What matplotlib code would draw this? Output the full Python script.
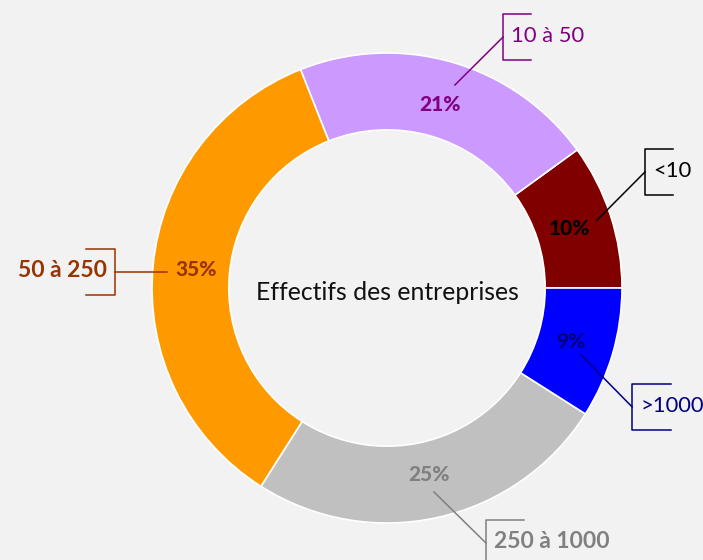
import matplotlib
matplotlib.use('Agg')

import matplotlib.pyplot as plt
import numpy as np

plt.rcParams['font.family'] = ['Lato', 'DejaVu Sans']

# effectifs des entreprises (%)
categories = ['<10', '10 à 50', '50 à 250', '250 à 1000', '>1000']
values = [10, 21, 35, 25, 9]
wedge_colors = ['#800000', '#cc99ff', '#ff9900', '#c0c0c0', '#0000ff']
label_colors = ['#000000', '#800080', '#993300', '#808080', '#000080']
label_bold = [False, False, True, True, False]
center_title = 'Effectifs des entreprises'

# leader lines: start point, bracket point (data units, radius = 1)
line_start = [(0.894, 0.289), (0.289, 0.864), (-0.936, 0.068), (0.20, -0.868), (0.826, -0.285)]
line_end = [(1.098, 0.494), (0.494, 1.068), (-1.157, 0.068), (0.421, -1.085), (1.043, -0.506)]
bracket_len = [0.12, 0.12, 0.125, 0.16, 0.165]

fig = plt.figure(figsize=(7.03, 5.6), dpi=100)
fig.patch.set_facecolor('#f2f2f2')
ax = fig.add_axes([0, 0, 1, 1])
ax.set_facecolor('#f2f2f2')

ax.pie(values, radius=1, startangle=0, counterclock=True,
       colors=wedge_colors,
       wedgeprops=dict(width=0.327, edgecolor='white', linewidth=1.2))

# pourcentages dans l'anneau
cum = np.cumsum([0] + values)
for i, v in enumerate(values):
    mid = np.deg2rad((cum[i] + v / 2) / sum(values) * 360)
    ax.text(0.815 * np.cos(mid), 0.815 * np.sin(mid), f'{v}%',
            ha='center', va='center', fontsize=15, fontweight='black',
            color=label_colors[i])

# étiquettes avec crochet
hh = 0.097
for i, cat in enumerate(categories):
    (x0, y0), (x1, y1) = line_start[i], line_end[i]
    c = label_colors[i]
    ax.plot([x0, x1], [y0, y1], color=c, lw=1.1)
    side = -1 if x1 < 0 else 1
    bl = bracket_len[i] * side
    ax.plot([x1 + bl, x1, x1, x1 + bl], [y1 + hh, y1 + hh, y1 - hh, y1 - hh],
            color=c, lw=1.1)
    ax.text(x1 + side * 0.035, y1 + 0.005, cat, ha='left' if side > 0 else 'right',
            va='center', fontsize=16.5 if label_bold[i] else 15.8, color=c,
            fontweight='bold' if label_bold[i] else 'normal')

ax.text(0.0, -0.02, center_title, ha='center', va='center', fontsize=17.8, color='#111111')

ax.set_xlim(-387 / 235, 316 / 235)
ax.set_ylim(-272 / 235, 288 / 235)
ax.set_aspect('auto')
ax.axis('off')

fig.savefig('out.png', dpi=100, facecolor=fig.get_facecolor())
